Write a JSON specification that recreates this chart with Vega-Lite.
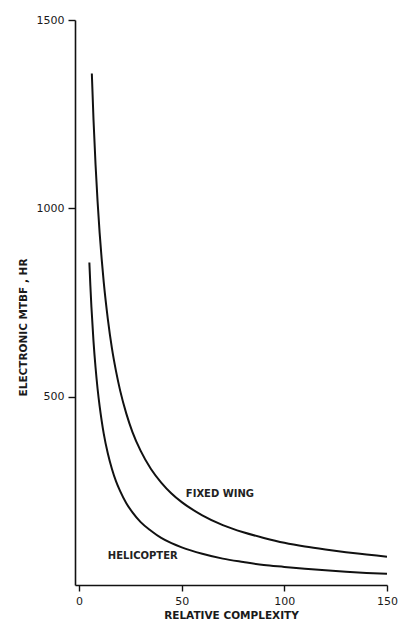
{
  "$schema": "https://vega.github.io/schema/vega-lite/v6.json",
  "autosize": "none",
  "width": 312,
  "height": 565,
  "padding": {"left": 75, "top": 20, "right": 12, "bottom": 37},
  "background": "white",
  "config": {
    "view": {"stroke": null},
    "font": "DejaVu Sans",
    "axis": {
      "grid": false,
      "domainColor": "#111",
      "domainWidth": 1.6,
      "tickColor": "#111",
      "tickWidth": 1.4,
      "labelColor": "#1a1a1a",
      "titleColor": "#1a1a1a",
      "labelFont": "DejaVu Sans",
      "titleFont": "DejaVu Sans",
      "labelFontSize": 11,
      "titleFontSize": 10.5,
      "titleFontWeight": "bold"
    }
  },
  "datasets": {
    "curves": [
      {"series": "Fixed wing", "complexity": 6.2, "mtbf": 1358},
      {"series": "Fixed wing", "complexity": 7, "mtbf": 1237},
      {"series": "Fixed wing", "complexity": 8, "mtbf": 1117},
      {"series": "Fixed wing", "complexity": 9, "mtbf": 1018},
      {"series": "Fixed wing", "complexity": 10, "mtbf": 935},
      {"series": "Fixed wing", "complexity": 11, "mtbf": 865},
      {"series": "Fixed wing", "complexity": 12, "mtbf": 804},
      {"series": "Fixed wing", "complexity": 14, "mtbf": 706},
      {"series": "Fixed wing", "complexity": 16, "mtbf": 628},
      {"series": "Fixed wing", "complexity": 18, "mtbf": 567},
      {"series": "Fixed wing", "complexity": 20, "mtbf": 516},
      {"series": "Fixed wing", "complexity": 23, "mtbf": 455},
      {"series": "Fixed wing", "complexity": 26, "mtbf": 406},
      {"series": "Fixed wing", "complexity": 30, "mtbf": 356},
      {"series": "Fixed wing", "complexity": 35, "mtbf": 308},
      {"series": "Fixed wing", "complexity": 40, "mtbf": 272},
      {"series": "Fixed wing", "complexity": 45, "mtbf": 243},
      {"series": "Fixed wing", "complexity": 50, "mtbf": 220},
      {"series": "Fixed wing", "complexity": 60, "mtbf": 185},
      {"series": "Fixed wing", "complexity": 70, "mtbf": 159},
      {"series": "Fixed wing", "complexity": 80, "mtbf": 140},
      {"series": "Fixed wing", "complexity": 90, "mtbf": 125},
      {"series": "Fixed wing", "complexity": 100, "mtbf": 112},
      {"series": "Fixed wing", "complexity": 110, "mtbf": 102},
      {"series": "Fixed wing", "complexity": 120, "mtbf": 94},
      {"series": "Fixed wing", "complexity": 130, "mtbf": 87},
      {"series": "Fixed wing", "complexity": 140, "mtbf": 81},
      {"series": "Fixed wing", "complexity": 150, "mtbf": 75},
      {"series": "Helicopter", "complexity": 5, "mtbf": 856},
      {"series": "Helicopter", "complexity": 5.5, "mtbf": 793},
      {"series": "Helicopter", "complexity": 6, "mtbf": 738},
      {"series": "Helicopter", "complexity": 7, "mtbf": 648},
      {"series": "Helicopter", "complexity": 8, "mtbf": 578},
      {"series": "Helicopter", "complexity": 9, "mtbf": 521},
      {"series": "Helicopter", "complexity": 10, "mtbf": 475},
      {"series": "Helicopter", "complexity": 11, "mtbf": 436},
      {"series": "Helicopter", "complexity": 12, "mtbf": 402},
      {"series": "Helicopter", "complexity": 14, "mtbf": 349},
      {"series": "Helicopter", "complexity": 16, "mtbf": 308},
      {"series": "Helicopter", "complexity": 18, "mtbf": 275},
      {"series": "Helicopter", "complexity": 20, "mtbf": 249},
      {"series": "Helicopter", "complexity": 23, "mtbf": 217},
      {"series": "Helicopter", "complexity": 26, "mtbf": 193},
      {"series": "Helicopter", "complexity": 30, "mtbf": 167},
      {"series": "Helicopter", "complexity": 35, "mtbf": 144},
      {"series": "Helicopter", "complexity": 40, "mtbf": 125},
      {"series": "Helicopter", "complexity": 45, "mtbf": 111},
      {"series": "Helicopter", "complexity": 50, "mtbf": 100},
      {"series": "Helicopter", "complexity": 60, "mtbf": 83},
      {"series": "Helicopter", "complexity": 70, "mtbf": 70},
      {"series": "Helicopter", "complexity": 80, "mtbf": 61},
      {"series": "Helicopter", "complexity": 90, "mtbf": 53},
      {"series": "Helicopter", "complexity": 100, "mtbf": 48},
      {"series": "Helicopter", "complexity": 110, "mtbf": 43},
      {"series": "Helicopter", "complexity": 120, "mtbf": 39},
      {"series": "Helicopter", "complexity": 130, "mtbf": 35},
      {"series": "Helicopter", "complexity": 140, "mtbf": 32},
      {"series": "Helicopter", "complexity": 150, "mtbf": 30}
    ],
    "labels": [
      {"label": "FIXED WING", "complexity": 52, "mtbf": 242},
      {"label": "HELICOPTER", "complexity": 14, "mtbf": 77}
    ]
  },
  "layer": [
    {
      "data": {"name": "curves"},
      "mark": {"type": "line", "interpolate": "monotone", "strokeWidth": 2, "color": "#111"},
      "encoding": {
        "x": {
          "field": "complexity",
          "type": "quantitative",
          "scale": {"domain": [-2, 150], "nice": false, "zero": false},
          "axis": {
            "title": "RELATIVE COMPLEXITY",
            "values": [0, 50, 100, 150],
            "format": "d",
            "tickSize": 6,
            "labelPadding": 4,
            "titlePadding": 4,
            "labelFlush": false
          }
        },
        "y": {
          "field": "mtbf",
          "type": "quantitative",
          "scale": {"domain": [0, 1500], "nice": false},
          "axis": {
            "title": "ELECTRONIC MTBF , HR",
            "values": [500, 1000, 1500],
            "format": "d",
            "tickSize": 7,
            "labelPadding": 4,
            "titlePadding": 8,
            "titleY": 307
          }
        },
        "detail": {"field": "series"}
      }
    },
    {
      "data": {"name": "labels"},
      "mark": {"type": "text", "align": "left", "baseline": "middle", "fontSize": 10, "fontWeight": "bold", "color": "#222", "font": "DejaVu Sans"},
      "encoding": {
        "x": {"field": "complexity", "type": "quantitative"},
        "y": {"field": "mtbf", "type": "quantitative"},
        "text": {"field": "label"}
      }
    }
  ]
}
